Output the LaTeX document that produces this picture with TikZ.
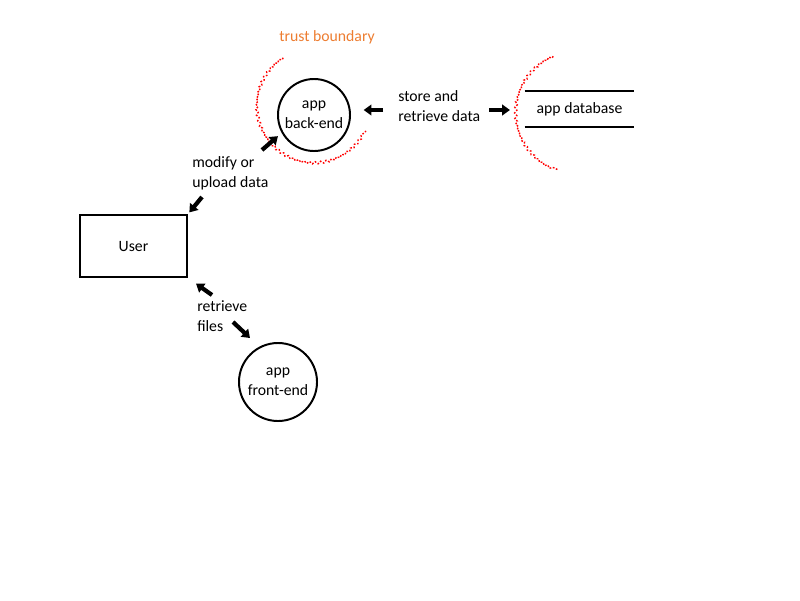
\documentclass[tikz,border=0pt]{standalone}
\usepackage{fontspec}
\setmainfont{Carlito}
\usepackage{tikz}
\usetikzlibrary{arrows.meta,decorations.pathmorphing}
\definecolor{boundary}{HTML}{FF0000}
\definecolor{label}{HTML}{ED7D31}

\begin{document}
\begin{tikzpicture}[x=0.025cm,y=-0.025cm,
  font=\fontsize{11.2}{14}\selectfont,
  proc/.style={circle,draw,line width=1.4pt,minimum size=1.8cm,align=center,inner sep=0pt},
  ext/.style={rectangle,draw,line width=1.4pt,minimum width=2.675cm,minimum height=1.55cm},
  store/.style={minimum width=2.725cm,minimum height=0.9cm},
  flow/.style={line width=3pt,-{Triangle[length=5.5pt,width=7.5pt]}},
  trust/.style={color=boundary,line width=1pt,dash pattern=on 1.2pt off 1.2pt,decorate,
    decoration={snake,segment length=4pt,amplitude=0.8pt}},
  txt/.style={anchor=west,align=left,inner sep=0pt}]
  \useasboundingbox (0,0) rectangle (800,600);
  \node[ext] (user) at (133.5,246) {User};
  \node[proc] (backend) at (314,115) {app\\back-end};
  \node[proc,minimum size=1.95cm] (frontend) at (278,382) {app\\front-end};
  \node[store] (db) at (579.5,109) {app database};
  \draw[line width=1.4pt] (db.north west) -- (db.north east) (db.south west) -- (db.south east);
  \draw[trust] (315,105) ++(236:57) arc[start angle=236,end angle=27,radius=57];
  \draw[trust] (578,112) ++(246:61) arc[start angle=246,end angle=109,radius=61];
  \node[color=label] (tb) at (327,37) {trust boundary};
  \node[txt] (modify) at (192,173) {modify or\\upload data};
  \node[txt] (storeret) at (398,106) {store and\\retrieve data};
  \node[txt] (files) at (197,316) {retrieve\\files};
  \coordinate (m1) at (262,150);
  \coordinate (m2) at (202,197);
  \coordinate (s1) at (383,110);
  \coordinate (s2) at (489,110);
  \coordinate (r1) at (212,295);
  \coordinate (r2) at (233,322);
  \draw[flow,shorten >=3.5pt] (m1) -- (backend.209);
  \draw[flow,shorten >=1.5pt] (m2) -- (user.north east);
  \draw[flow,shorten >=9pt] (s1) -- (s1 -| backend.east);
  \draw[flow,shorten >=10.5pt] (s2) -- (s2 -| db.west);
  \draw[flow,shorten >=7pt] (r1) -- (user.south east);
  \draw[flow,shorten >=9pt] (r2) -- (frontend.118);
\end{tikzpicture}
\end{document}
